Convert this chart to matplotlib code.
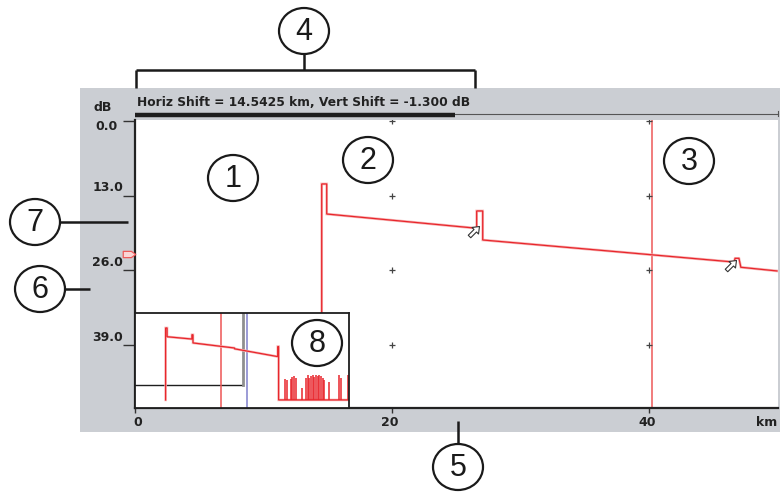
import matplotlib
matplotlib.use("Agg")
import matplotlib.pyplot as plt
from matplotlib.patches import Rectangle, Ellipse
from matplotlib.lines import Line2D
from matplotlib.path import Path
import numpy as np

# ---------------- data ----------------
header_text = "Horiz Shift = 14.5425 km, Vert Shift = -1.300 dB"
y_ticks = [0, 13, 26, 39]
y_tick_labels = ["0.0", "13.0", "26.0", "39.0"]
x_ticks = [0, 20, 40]
x_tick_labels = ["0", "20", "40"]

# main trace (km, dB)
trace_km = [14.53, 14.53, 14.92, 14.92, 26.59, 26.59, 27.06, 27.06, 37.74, 46.30, 46.62, 46.70, 47.00, 47.15, 49.96]
trace_db = [49.9, 10.96, 10.96, 16.19, 18.67, 15.66, 15.66, 20.71, 22.80, 24.49, 24.55, 23.90, 23.90, 25.46, 26.10]
marker_a_km = 40.25
grid_x = [20, 40]
grid_y = [0, 13, 26, 39]
event_cursor_km = [26.4, 46.4]
event_cursor_db = [19.1, 25.1]
ref_level_db = 23.1

# overview (inset) trace
ov_km = [14.3, 14.3, 15.0, 15.0, 26.6, 26.6, 27.1, 27.1, 46.4, 46.6, 66.7, 66.7, 67.1, 67.1, 100.0]
ov_db = [60.4, 10.4, 10.4, 16.5, 18.1, 15.1, 15.1, 20.8, 24.3, 24.9, 30.3, 23.3, 23.3, 60.4, 60.4]
noise_km = [70.1, 71.2, 72.7, 73.5, 74.3, 75.1, 78.2, 79.9, 80.7, 81.5, 82.2, 83.0, 83.8, 84.6,
            85.4, 86.1, 86.9, 87.7, 88.5, 90.8, 95.5, 96.3, 99.4]
noise_db = [45.8, 46.5, 46.0, 44.2, 43.8, 45.3, 52.3, 45.3, 43.1, 45.3, 43.8, 43.1, 44.2, 43.1,
            43.8, 43.3, 43.8, 45.3, 46.5, 47.7, 43.1, 45.3, 43.1]
noise_floor_db = 60.4
ov_marker_a_km = 40.2
ov_marker_b_km = 52.2
ov_view_km = 50.6
ov_view_db = 50.0

callouts = ["1", "2", "3", "4", "5", "6", "7", "8"]

# ---------------- figure ----------------
W, H = 780, 493
fig = plt.figure(figsize=(W / 100, H / 100), dpi=100)
fig.patch.set_facecolor("white")

def fx(px):
    return px / W

def fy(py):
    return 1 - py / H

GRAY = "#cbced3"
RED = "#e8262c"
PINK = "#f7b4b4"
TXT = "#222222"

# gray instrument panel
fig.add_artist(Rectangle((fx(80), fy(432)), fx(780) - fx(80), fy(88) - fy(432),
                         transform=fig.transFigure, facecolor=GRAY, edgecolor="none", zorder=-10))

# main axes
ax = fig.add_axes([fx(135), fy(408), fx(778) - fx(135), fy(120) - fy(408)])
ax.set_facecolor("white")
ax.set_xlim(0, 50.04)
ax.set_ylim(49.95, -0.17)
for s in ["top", "right"]:
    ax.spines[s].set_visible(False)
for s in ["left", "bottom"]:
    ax.spines[s].set_color("#222222")
    ax.spines[s].set_linewidth(1.6)
ax.set_yticks(y_ticks)
ax.set_yticklabels([])
ax.set_xticks(x_ticks)
ax.set_xticklabels([])
ax.tick_params(axis="y", direction="out", length=8.5, width=1.0, color="#333333")
ax.tick_params(axis="x", direction="out", length=3.5, width=1.0, color="#333333")

# y tick labels (custom offsets)
for v, lab in zip(y_ticks, y_tick_labels):
    dy = -6 if v == 0 else 8
    dx = -17 if v == 0 else -12
    ax.annotate(lab, xy=(0, v), xycoords=("axes fraction", "data"), xytext=(dx, dy),
                textcoords="offset pixels", ha="right", va="center",
                fontsize=9, fontweight="bold", color=TXT, annotation_clip=False)
for v, lab in zip(x_ticks, x_tick_labels):
    dx = 3 if v == 0 else -2
    ax.annotate(lab, xy=(v, 0), xycoords=("data", "axes fraction"), xytext=(dx, -15),
                textcoords="offset pixels", ha="center", va="center",
                fontsize=9, fontweight="bold", color=TXT, annotation_clip=False)
fig.text(fx(777), fy(423), "km", ha="right", va="center", fontsize=9, fontweight="bold", color=TXT)
fig.text(fx(94), fy(108), "dB", ha="left", va="center", fontsize=9, fontweight="bold", color=TXT)

# grid crosses
gx, gy = np.meshgrid(grid_x, grid_y)
ax.plot(gx.ravel(), gy.ravel(), linestyle="none", marker="+", markersize=5,
        markeredgewidth=0.9, color="#444444", zorder=3)

# marker A
ax.axvline(marker_a_km, color="#f07272", lw=1.3, zorder=2)

# trace
ax.plot(trace_km, trace_db, color=PINK, lw=1.9, solid_joinstyle="miter", zorder=4)
ax.plot(trace_km, trace_db, color=RED, lw=0.9, solid_joinstyle="miter", zorder=5)

# cursor arrows at events
arrow = np.array([[1.0, 0.0], [0.15, 0.65], [0.15, 0.25], [-1.0, 0.25], [-1.0, -0.25],
                  [0.15, -0.25], [0.15, -0.65], [1.0, 0.0]])
ang = np.deg2rad(45)
rot = np.array([[np.cos(ang), -np.sin(ang)], [np.sin(ang), np.cos(ang)]])
arrow_r = arrow @ rot.T
arrow_path = Path(arrow_r, [Path.MOVETO] + [Path.LINETO] * 6 + [Path.CLOSEPOLY])
ax.plot(event_cursor_km, event_cursor_db, linestyle="none", marker=arrow_path, markersize=9,
        markerfacecolor="white", markeredgecolor="#333333", markeredgewidth=0.8, zorder=6)

# reference level flag on left
flag = Path([(-1, -0.5), (0.3, -0.5), (1, 0), (0.3, 0.5), (-1, 0.5), (-1, -0.5)],
            [Path.MOVETO] + [Path.LINETO] * 4 + [Path.CLOSEPOLY])
ax.plot([-0.5], [ref_level_db], marker=flag, markersize=9, markerfacecolor="#fbd5d5",
        markeredgecolor="#ee5a5a", markeredgewidth=0.9, linestyle="none", clip_on=False, zorder=6)

# top scroll bar + header text
fig.add_artist(Line2D([fx(455), fx(778)], [fy(113.5), fy(113.5)], transform=fig.transFigure,
                      color="#555555", lw=0.8))
fig.add_artist(Line2D([fx(778), fx(778)], [fy(111), fy(116)], transform=fig.transFigure,
                      color="#555555", lw=0.8))
fig.add_artist(Line2D([fx(135), fx(455)], [fy(114.5), fy(114.5)], transform=fig.transFigure,
                      color="#1e1e1e", lw=3.2, solid_capstyle="butt"))
fig.text(fx(137), fy(102), header_text, ha="left", va="center", fontsize=8.8,
         fontweight="bold", color=TXT)

# ---------------- overview inset ----------------
ins = fig.add_axes([fx(135), fy(408), fx(349) - fx(135), fy(313) - fy(408)])
ins.set_zorder(5)
ins.set_facecolor("white")
ins.set_xlim(0, 100)
ins.set_ylim(66, 0)
ins.set_xticks([])
ins.set_yticks([])
for s in ins.spines.values():
    s.set_color("#1e1e1e")
    s.set_linewidth(1.3)
ins.plot([0, ov_view_km], [ov_view_db, ov_view_db], color="#1e1e1e", lw=1.0)
ins.plot([ov_view_km, ov_view_km], [0, ov_view_db], color="#8f8f8f", lw=2.0)
ins.axvline(ov_marker_a_km, color="#ee5555", lw=1.1)
ins.axvline(ov_marker_b_km, color="#8080cc", lw=1.1)
ins.plot(ov_km, ov_db, color=PINK, lw=1.8, solid_joinstyle="miter")
ins.plot(ov_km, ov_db, color=RED, lw=0.9, solid_joinstyle="miter")
ins.vlines(noise_km, noise_db, noise_floor_db, color=RED, lw=1.1)

# ---------------- callouts ----------------
callout_pos = {"1": (233, 178), "2": (368, 160), "3": (689, 161), "4": (304, 31),
               "5": (458, 467), "6": (40, 289), "7": (35, 222), "8": (317, 343)}
for c in callouts:
    px, py = callout_pos[c]
    fig.add_artist(Ellipse((fx(px), fy(py)), 50 / W, 46 / H, transform=fig.transFigure,
                           facecolor="none", edgecolor="#1a1a1a", lw=1.6, zorder=20))
    fig.text(fx(px), fy(py + 1), c, ha="center", va="center", fontsize=22,
             family="Liberation Sans", color="#1a1a1a", zorder=21)

def fline(xs, ys, lw=1.8):
    fig.add_artist(Line2D([fx(x) for x in xs], [fy(y) for y in ys], transform=fig.transFigure,
                          color="#1a1a1a", lw=lw, zorder=20, solid_capstyle="butt"))

fline([304, 304], [54, 70])
fline([136, 475], [70, 70])
fline([136, 136], [70, 88])
fline([475, 475], [70, 88])
fline([458, 458], [421, 444])
fline([60, 128], [222, 222])
fline([65, 90], [289, 289])

fig.savefig("out.png", dpi=100)
